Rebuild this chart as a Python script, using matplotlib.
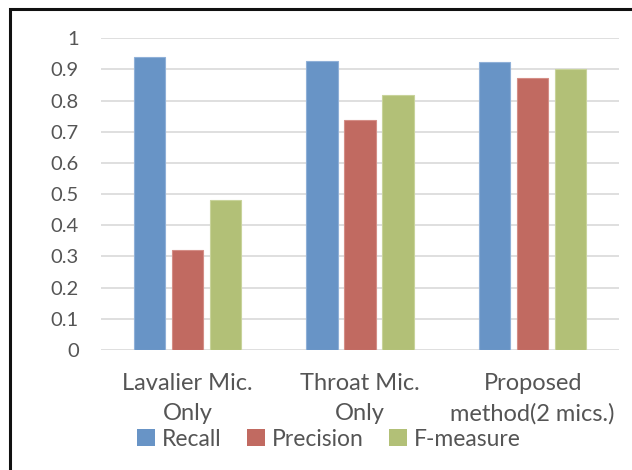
import numpy as np
import matplotlib.pyplot as plt
from matplotlib.patches import Rectangle, Patch

plt.rcParams['font.family'] = ['Lato', 'DejaVu Sans']

# scores per microphone setup
categories = ['Lavalier Mic.\nOnly', 'Throat Mic.\nOnly', 'Proposed\nmethod(2 mics.)']
recall = [0.941, 0.928, 0.924]
precision = [0.321, 0.738, 0.873]
fmeasure = [0.481, 0.819, 0.900]
series_names = ['Recall', 'Precision', 'F-measure']
yticks = [0, 0.1, 0.2, 0.3, 0.4, 0.5, 0.6, 0.7, 0.8, 0.9, 1]
ytick_labels = ['0', '0.1', '0.2', '0.3', '0.4', '0.5', '0.6', '0.7', '0.8', '0.9', '1']

colors = ['#6894c6', '#c16a61', '#b2c077']
edges = ['#8fb0d8', '#d48e86', '#c8d39b']
txt = '#555555'

fig = plt.figure(figsize=(6.32, 4.70), dpi=100)
ax = fig.add_axes([101/632, 1-350/470, 518/632, (350-38.3)/470])

x = np.arange(len(categories))
w = 0.18
step = 0.22
for i, vals in enumerate([recall, precision, fmeasure]):
    ax.bar(x + (i-1)*step, vals, w, color=colors[i], edgecolor=edges[i],
           linewidth=0.8, zorder=3, label=series_names[i])

ax.set_xlim(-0.5, 2.5)
ax.set_ylim(0, 1)
ax.set_yticks(yticks)
ax.set_yticklabels(ytick_labels)
ax.yaxis.grid(True, color='#d9d9d9', linewidth=1.2, zorder=0)
ax.set_axisbelow(True)
for s in ax.spines.values():
    s.set_visible(False)
ax.tick_params(axis='y', length=0, pad=16, labelsize=14.5, labelcolor=txt)
ax.set_xticks(x)
ax.set_xticklabels(categories, fontsize=17, color=txt, linespacing=1.55)
ax.tick_params(axis='x', length=0, pad=16.5)

handles = [Patch(facecolor=c) for c in colors]
fig.legend(handles, series_names, loc='center', bbox_to_anchor=(329/632, 1-439/470),
           ncol=3, frameon=False, fontsize=16.5, labelcolor=txt,
           handlelength=0.8, handleheight=0.8, handletextpad=0.3,
           columnspacing=1.1, borderpad=0)

# outer frame
fig.patches.append(Rectangle((9.5/632, -0.2), 1.2, 1-8.5/470+0.2,
                             transform=fig.transFigure, fill=False,
                             edgecolor='#111111', linewidth=2.2))

fig.savefig('out.png', dpi=100)
